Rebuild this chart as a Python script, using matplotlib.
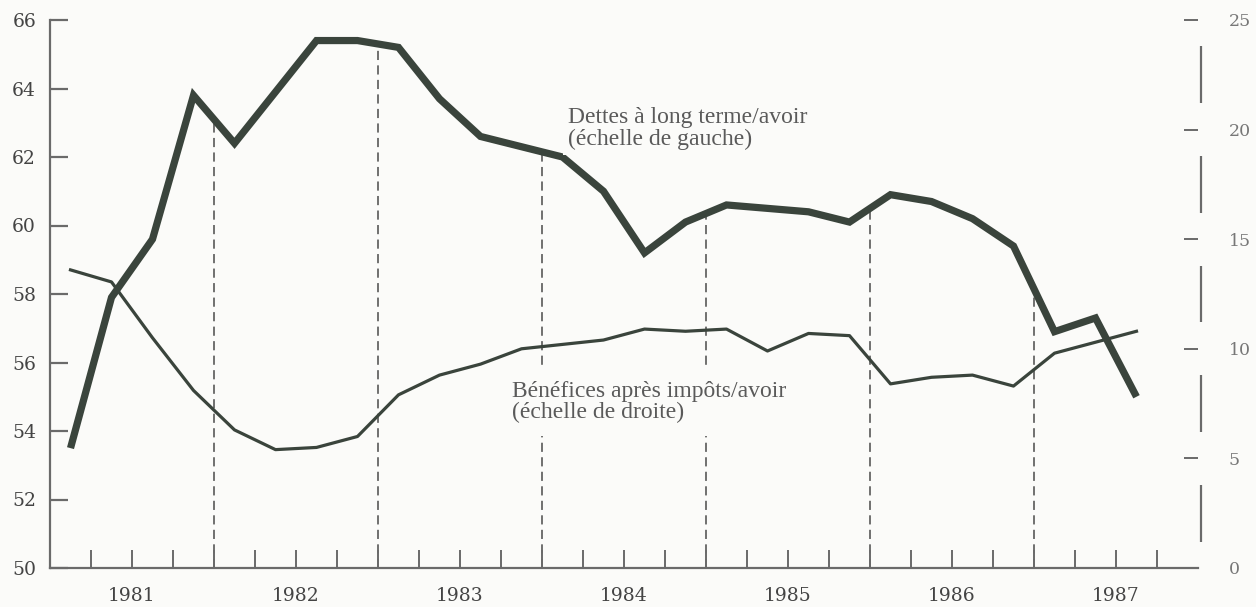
import numpy as np
import matplotlib
matplotlib.use("Agg")
import matplotlib.pyplot as plt

# quarterly data, 1981Q1 .. 1987Q3
years = [1981, 1982, 1983, 1984, 1985, 1986, 1987]
quarters = [y + (q - 0.5) / 4 for y in years for q in range(1, 5)][:27]

# long term debt / assets (left scale)
debt = [53.5, 57.9, 59.6, 63.8,
        62.4, 63.9, 65.4, 65.4,
        65.2, 63.7, 62.6, 62.3,
        62.0, 61.0, 59.2, 60.1,
        60.6, 60.5, 60.4, 60.1,
        60.9, 60.7, 60.2, 59.4,
        56.9, 57.3, 55.0]

# after-tax profits / assets (right scale)
profit = [13.6, 13.05, 10.5, 8.1,
          6.3, 5.4, 5.5, 6.0,
          7.9, 8.8, 9.3, 10.0,
          10.2, 10.4, 10.9, 10.8,
          10.9, 9.9, 10.7, 10.6,
          8.4, 8.7, 8.8, 8.3,
          9.8, 10.3, 10.8]

left_ticks = [50, 52, 54, 56, 58, 60, 62, 64, 66]
right_ticks = [0, 5, 10, 15, 20, 25]
year_labels = ["1981", "1982", "1983", "1984", "1985", "1986", "1987"]

line_col = "#3a443c"
axis_col = "#6a6a6a"
text_col = "#444444"
bg = "#fbfbf9"
serif = ["DejaVu Serif"]

fig = plt.figure(figsize=(12.56, 6.07), dpi=100)
fig.patch.set_facecolor(bg)
ax = fig.add_axes([50 / 1256, 1 - 568 / 607, 1148 / 1256, 548 / 607])
ax.set_facecolor("none")
ax2 = ax.twinx()

ax.set_xlim(1981, 1988)
ax.set_ylim(50, 66)
ax2.set_ylim(0, 25)

# year boundary dashed lines, from the bottom up to the debt line
bounds = np.arange(1982, 1988)
tops = np.interp(bounds, quarters, debt)
ax.vlines(bounds, 50, tops, colors="#4a4a4a", linestyles=(0, (6, 3.5)),
          linewidth=1.1, zorder=1)

ax.plot(quarters, debt, color=line_col, linewidth=5.2, solid_joinstyle="miter",
        solid_capstyle="butt", zorder=4)
ax2.plot(quarters, profit, color=line_col, linewidth=2.3, zorder=4)

# axes styling
for sp in ["top", "right"]:
    ax.spines[sp].set_visible(False)
for sp in ["top", "right", "left", "bottom"]:
    ax2.spines[sp].set_visible(False)
ax.spines["left"].set_color(axis_col)
ax.spines["bottom"].set_color(axis_col)
ax.spines["left"].set_linewidth(1.6)
ax.spines["bottom"].set_linewidth(1.6)

ax.set_yticks(left_ticks)
ax.set_yticklabels([str(v) for v in left_ticks], family=serif, fontsize=13.5, color=text_col)
ax.tick_params(axis="y", direction="in", length=13, width=1.6, color=axis_col, pad=10)

ax.set_xticks([y + 0.5 for y in years])
ax.set_xticklabels(year_labels, family=serif, fontsize=13.5, color=text_col)
ax.set_xticks(np.arange(1981.25, 1988, 0.25), minor=True)
ax.tick_params(axis="x", which="both", direction="in", length=13, width=1.4,
               color=axis_col, pad=14)

ax2.set_yticks(right_ticks)
ax2.set_yticklabels([str(v) for v in right_ticks], family=serif, fontsize=12.5, color="#777777")
ax2.tick_params(axis="y", direction="in", length=10, width=1.4, color=axis_col, pad=22)

# broken right axis line between the ticks
seg_lo = [t + 1.2 for t in right_ticks[:-1]]
seg_hi = [t + 3.8 for t in right_ticks[:-1]]
ax2.vlines([1988.02] * len(seg_lo), seg_lo, seg_hi, colors=axis_col,
           linewidth=1.6, clip_on=False)

lab_font = dict(family=["Liberation Serif"], fontsize=17, color="#5a5a5a",
                linespacing=1.0, va="top", ha="left")
ax.text(1984.16, 63.45, "Dettes à long terme/avoir\n(échelle de gauche)", zorder=5,
        bbox=dict(facecolor=bg, edgecolor="none", pad=4), **lab_font)
ax.text(1983.82, 55.45, "Bénéfices après impôts/avoir\n(échelle de droite)", zorder=5,
        bbox=dict(facecolor=bg, edgecolor="none", pad=9), **lab_font)

fig.savefig("out.png", dpi=100, facecolor=fig.get_facecolor())
